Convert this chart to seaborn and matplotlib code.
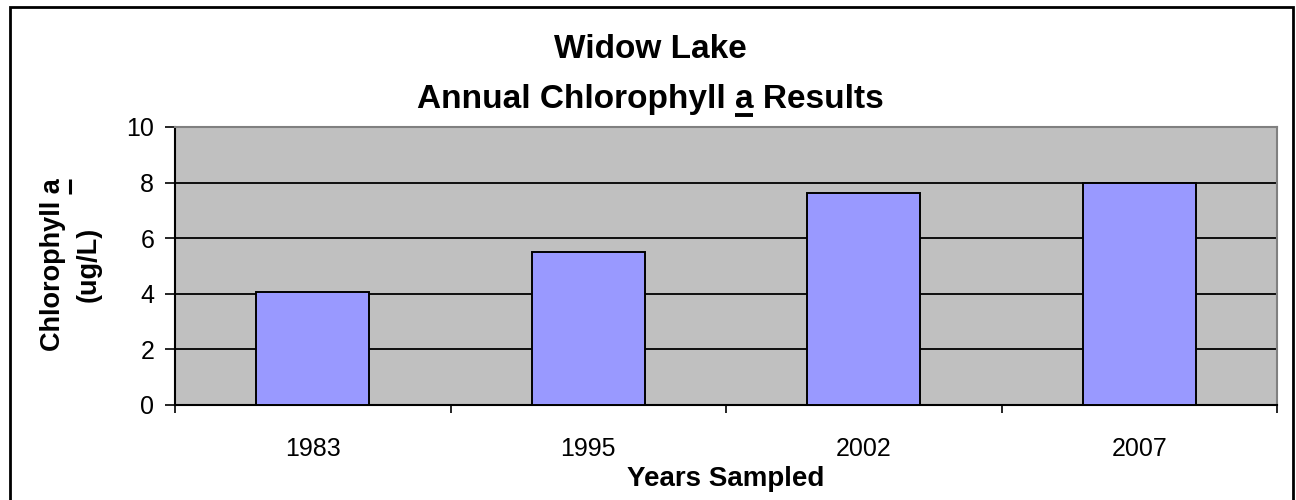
import matplotlib
matplotlib.use("Agg")
import matplotlib.pyplot as plt
import seaborn as sns
import pandas as pd
from matplotlib.lines import Line2D
from matplotlib.patches import Rectangle

# ---- data ----
years = ["1983", "1995", "2002", "2007"]
chlorophyll = [4.05, 5.5, 7.62, 8.0]
y_ticks = [0, 2, 4, 6, 8, 10]

title_line1 = "Widow Lake"
title_line2 = "Annual Chlorophyll a Results"
x_title = "Years Sampled"
y_title_line1 = "Chlorophyll a"
y_title_line2 = "(ug/L)"

sns.set_theme(style="white")
plt.rcParams['font.family'] = ['Liberation Sans', 'DejaVu Sans']

df = pd.DataFrame({"year": years, "chl": chlorophyll})

W, H = 1296, 500
fig = plt.figure(figsize=(W / 100, H / 100), dpi=100)
fig.patch.set_facecolor("white")
ax = fig.add_axes([175 / W, 1 - 405 / H, (1277 - 175) / W, (405 - 127) / H])
ax.set_facecolor("#C0C0C0")

sns.barplot(data=df, x="year", y="chl", color="#9999FF", saturation=1,
            width=0.41, edgecolor="black", linewidth=1.4, errorbar=None,
            ax=ax, zorder=3)

ax.set_xlim(-0.5, len(years) - 0.5)
ax.set_ylim(0, 10)
ax.set_yticks(y_ticks)
ax.set_yticklabels([str(v) for v in y_ticks])
ax.yaxis.grid(True, color="black", linewidth=1.3)
ax.xaxis.grid(False)
ax.set_axisbelow(True)

for s in ["left", "bottom"]:
    ax.spines[s].set_color("black")
    ax.spines[s].set_linewidth(1.5)
for s in ["top", "right"]:
    ax.spines[s].set_color("#808080")
    ax.spines[s].set_linewidth(1.5)

ax.set_xticks([i - 0.5 for i in range(len(years) + 1)], minor=True)
ax.tick_params(axis="y", which="major", left=True, direction="out", length=7,
               width=1.2, color="black", labelsize=18, pad=8, labelcolor="black")
ax.tick_params(axis="x", which="major", bottom=True, length=0, labelsize=18,
               pad=23, labelcolor="black")
ax.tick_params(axis="x", which="minor", bottom=True, direction="out", length=6,
               width=1.2, color="black")

ax.set_xlabel(x_title, fontsize=20, fontweight="bold", color="black", labelpad=4)
ax.set_ylabel("")

# titles
fs_title = 24
t1 = fig.text(0.5015, 1 - 58 / H, title_line1, ha="center", va="baseline",
              fontsize=fs_title, fontweight="bold", color="black")
t2 = fig.text(0.5015, 1 - 108 / H, title_line2, ha="center", va="baseline",
              fontsize=fs_title, fontweight="bold", color="black")

fs_ylab = 19.5
ty1 = fig.text(53 / W, 1 - 265 / H, y_title_line1, rotation=90, ha="center",
               va="center", fontsize=fs_ylab, fontweight="bold", color="black")
ty2 = fig.text(89 / W, 1 - 264 / H, y_title_line2, rotation=90, ha="center",
               va="center", fontsize=fs_ylab, fontweight="bold", color="black")

# outer frame
fig.patches.append(Rectangle((10 / W, -0.05), (1293 - 10) / W, 1.05 - 7 / H,
                             transform=fig.transFigure, fill=False,
                             edgecolor="black", linewidth=2.0))

# underlines of the letter "a"
fig.canvas.draw()
r = fig.canvas.get_renderer()


def width_of(s, fs):
    tmp = fig.text(0, 0, s, fontsize=fs, fontweight="bold")
    w = tmp.get_window_extent(r).width
    tmp.remove()
    return w


bb = t2.get_window_extent(r)
w_pref = width_of("Annual Chlorophyll a", fs_title)
w_a = width_of("a", fs_title)
xa1 = bb.x0 + w_pref
xa0 = xa1 - w_a
yl = H - 115
fig.add_artist(Line2D([xa0 / W, xa1 / W], [yl / H, yl / H], transform=fig.transFigure,
                      color="black", linewidth=2.8, solid_capstyle="butt"))

bby = ty1.get_window_extent(r)
w_a2 = width_of("a", fs_ylab)
ya1 = bby.y1
ya0 = ya1 - w_a2
xl = bby.x1 + 4
fig.add_artist(Line2D([xl / W, xl / W], [ya0 / H, ya1 / H], transform=fig.transFigure,
                      color="black", linewidth=2.2, solid_capstyle="butt"))

fig.savefig("out.png", dpi=100, facecolor="white")
